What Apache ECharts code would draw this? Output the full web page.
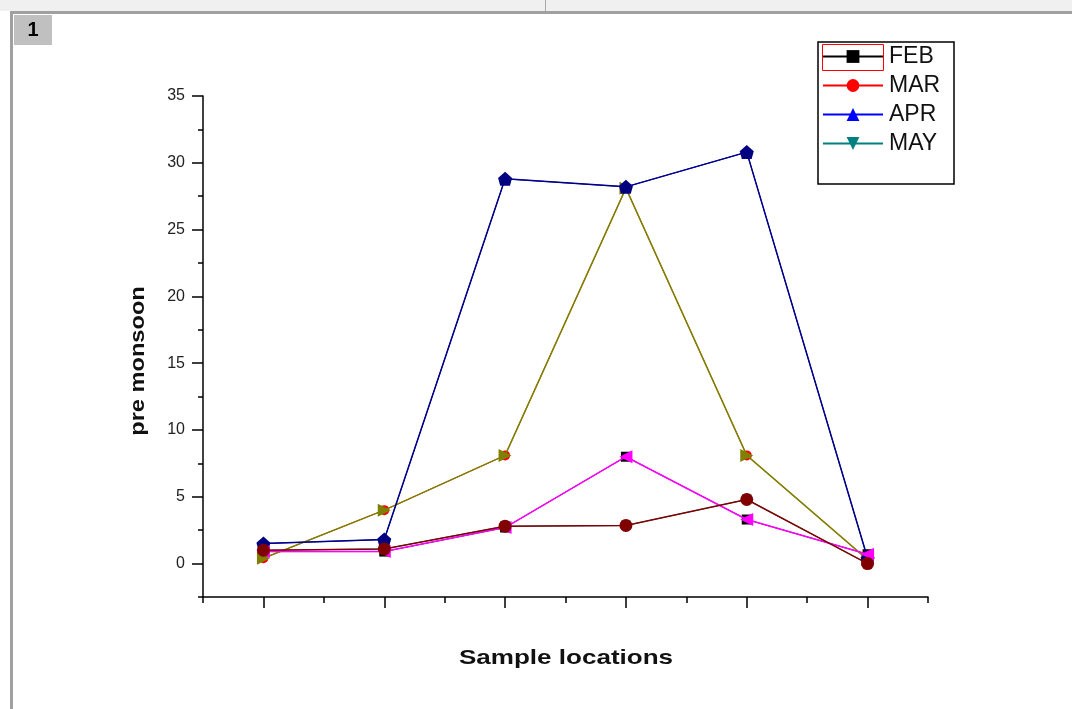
<!DOCTYPE html>
<html>
<head>
<meta charset="utf-8">
<script src="https://cdn.jsdelivr.net/npm/echarts@6/dist/echarts.min.js"></script>
<style>
html,body{margin:0;padding:0;background:#fff;}
#chart{width:1072px;height:709px;}
</style>
</head>
<body>
<div id="chart"></div>
<script>
// ---- data ----
var categories = ['1', '2', '3', '4', '5', '6'];
var feb = [0.9, 0.9, 2.7, 8.0, 3.3, 0.7];
var mar = [0.4, 4.0, 8.1, 28.1, 8.1, 0.3];
var apr = [1.5, 1.8, 28.8, 28.2, 30.8, 0.4];
var may = [1.0, 1.1, 2.8, 2.85, 4.8, 0.0];
var yMajorTicks = [0, 5, 10, 15, 20, 25, 30, 35];
var yMinorTicks = [-2.5, 2.5, 7.5, 12.5, 17.5, 22.5, 27.5, 32.5];
var legendNames = ['FEB', 'MAR', 'APR', 'MAY'];

var FONT = 'Liberation Sans, Arial, sans-serif';
var chart = echarts.init(document.getElementById('chart'));

function baseSeries(name, data, color, symbol, rotate) {
  return {
    name: name, type: 'line', data: data,
    xAxisIndex: 0, yAxisIndex: 0,
    symbol: symbol, symbolSize: 10, symbolRotate: rotate || 0,
    lineStyle: {color: color, width: 1},
    itemStyle: {color: color},
    emphasis: {disabled: true},
    animation: false, z: 2
  };
}
function overlay(data, color, symbol, size, rotate, z) {
  return {
    type: 'line', data: data,
    xAxisIndex: 0, yAxisIndex: 0,
    symbol: symbol, symbolSize: size, symbolRotate: rotate || 0,
    lineStyle: {color: color, width: 1.5},
    itemStyle: {color: color},
    emphasis: {disabled: true},
    animation: false, z: z
  };
}
var pentagon = 'path://M0,-10 L10,-2 L7,8 L-7,8 L-10,-2 Z';

var option = {
  backgroundColor: '#ffffff',
  animation: false,
  grid: {left: 203, top: 96, right: 144, bottom: 112, containLabel: false},
  legend: {
    data: legendNames,
    orient: 'vertical',
    left: 822, top: 45,
    itemWidth: 60, itemHeight: 16, itemGap: 6,
    padding: 0,
    textStyle: {fontSize: 23, fontFamily: FONT, color: '#111', padding: [0, 0, 0, 1]},
    selectedMode: false
  },
  xAxis: [{
    type: 'category', data: categories, boundaryGap: true,
    axisLine: {show: true, onZero: false, lineStyle: {color: '#000', width: 1.5}},
    axisTick: {show: true, alignWithLabel: true, length: 11, lineStyle: {color: '#000', width: 1.5}},
    axisLabel: {show: false},
    splitLine: {show: false}
  }, {
    type: 'category', data: categories, boundaryGap: true, position: 'bottom',
    axisLine: {show: false, onZero: false},
    axisTick: {show: true, alignWithLabel: false, length: 6, lineStyle: {color: '#000', width: 1.5}},
    axisLabel: {show: false},
    splitLine: {show: false}
  }],
  yAxis: [{
    type: 'value', min: -2.5, max: 35,
    axisLine: {show: true, onZero: false, lineStyle: {color: '#000', width: 1.5}},
    axisTick: {show: true, length: 11, customValues: yMajorTicks, lineStyle: {color: '#000', width: 1.5}},
    axisLabel: {show: true, customValues: yMajorTicks, fontSize: 16, fontFamily: FONT, color: '#222', margin: 18},
    splitLine: {show: false}
  }, {
    type: 'value', min: -2.5, max: 35, position: 'left',
    axisLine: {show: false, onZero: false},
    axisTick: {show: true, length: 5, customValues: yMinorTicks, lineStyle: {color: '#000', width: 1.5}},
    axisLabel: {show: false},
    splitLine: {show: false}
  }],
  series: [
    baseSeries('FEB', feb, '#000000', 'rect'),
    baseSeries('MAR', mar, '#ff0000', 'circle'),
    baseSeries('APR', apr, '#0000ff', 'triangle'),
    baseSeries('MAY', may, '#008080', 'triangle', 180),
    overlay(mar, '#808000', 'triangle', 13, -90, 3),
    overlay(apr, '#000080', pentagon, 14, 0, 4),
    overlay(feb, '#ff00ff', 'triangle', 13, 90, 5),
    overlay(may, '#800000', 'circle', 13, 0, 6)
  ],
  graphic: [
    {type: 'rect', shape: {x: 0, y: 0, width: 1072, height: 11}, style: {fill: '#f0f0f0'}, silent: true},
    {type: 'line', shape: {x1: 545.5, y1: 0, x2: 545.5, y2: 11}, style: {stroke: '#a8a8a8', lineWidth: 1}, silent: true},
    {type: 'line', shape: {x1: 10, y1: 12.5, x2: 1072, y2: 12.5}, style: {stroke: '#a0a0a0', lineWidth: 3}, silent: true},
    {type: 'line', shape: {x1: 11.5, y1: 12, x2: 11.5, y2: 709}, style: {stroke: '#a0a0a0', lineWidth: 3}, silent: true},
    {type: 'rect', shape: {x: 14, y: 15, width: 38, height: 30}, style: {fill: '#c0c0c0'}, silent: true},
    {type: 'text', x: 33, y: 30, style: {text: '1', font: 'bold 20px ' + FONT, fill: '#000', align: 'center', verticalAlign: 'middle'}, silent: true},
    {type: 'rect', shape: {x: 818, y: 42, width: 136, height: 142}, style: {fill: 'none', stroke: '#000', lineWidth: 1.5}, silent: true, z: 10},
    {type: 'rect', shape: {x: 822.5, y: 44.5, width: 61, height: 26}, style: {fill: 'none', stroke: '#ff0000', lineWidth: 1}, silent: true, z: 10},
    {type: 'text', x: 566, y: 658, scaleX: 1.24,
      style: {text: 'Sample locations', font: 'bold 21px ' + FONT, fill: '#111', align: 'center', verticalAlign: 'middle'}, silent: true},
    {type: 'text', x: 138, y: 361, rotation: Math.PI / 2, scaleX: 1.18,
      style: {text: 'pre monsoon', font: 'bold 20px ' + FONT, fill: '#111', align: 'center', verticalAlign: 'middle'}, silent: true}
  ]
};
chart.setOption(option);
</script>
</body>
</html>
